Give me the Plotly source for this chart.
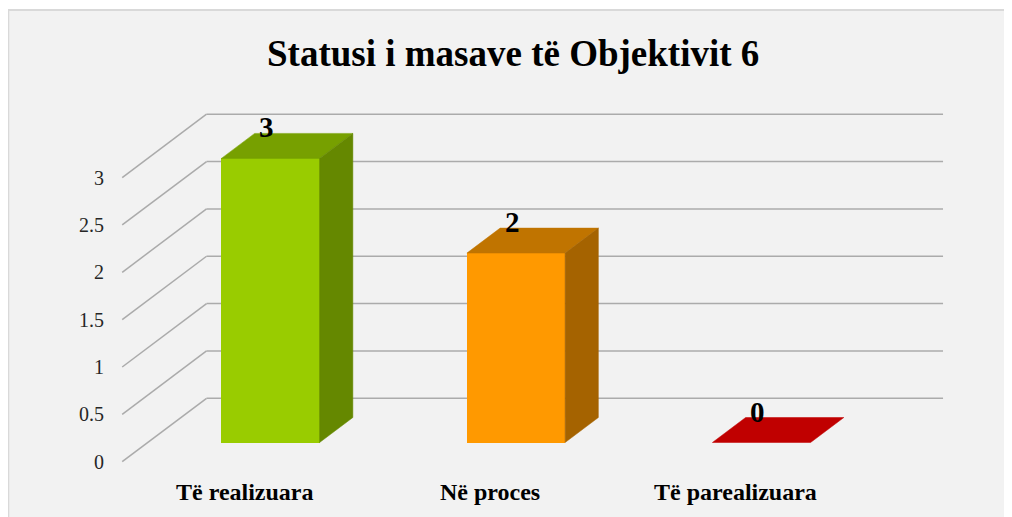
import plotly.graph_objects as go

# ---------------- data ----------------
categories = ["Të realizuara", "Në proces", "Të parealizuara"]
values = [3, 2, 0]
value_labels = ["3", "2", "0"]
tick_values = [0, 0.5, 1, 1.5, 2, 2.5, 3]
tick_labels = ["0", "0.5", "1", "1.5", "2", "2.5", "3"]
title_text = "Statusi i masave të Objektivit 6"

front_colors = ["#99CC00", "#FF9900", "#C00000"]
top_colors = ["#77A000", "#C07400", "#C00000"]
side_colors = ["#658800", "#A56300", "#900000"]

SERIF = "Liberation Serif, Times New Roman, DejaVu Serif, serif"

# ---------------- layout geometry (pixels, figure coordinates) ----------------
W, H = 1012, 517
PAGE_OFF = 8          # browser body margin
CAT_PX = 245.5        # pixels per category step
VAL_PX = 94.7         # pixels per value unit
X0_PX = 270.5 - PAGE_OFF   # pixel of category 0 (front face of bars)
Y0_PX = 442.5 - PAGE_OFF   # pixel of value 0 (front face of bars)
SLOPE = 1.33          # horizontal px per vertical px of depth
BAR_W = 0.4           # bar width in category units
BAR_D = 25            # bar depth (vertical px)
FRONT_D = -19.2       # front plane depth
BACK_D = 44.2         # back wall depth
WALL_L, WALL_R = -0.5, 2.5

xr = [(0 - X0_PX) / CAT_PX, (W - X0_PX) / CAT_PX]
yr = [-(H - Y0_PX) / VAL_PX, Y0_PX / VAL_PX]


def shift(d):
    return SLOPE * d / CAT_PX, d / VAL_PX


fig = go.Figure()

# front faces of the bars
fig.add_trace(go.Bar(
    x=list(range(len(categories))), y=values, width=BAR_W,
    marker=dict(color=front_colors, line=dict(width=0)),
    hoverinfo="skip", showlegend=False,
))

bdx, bdy = shift(BAR_D)
for i, v in enumerate(values):
    xl, xr_ = i - BAR_W / 2, i + BAR_W / 2
    # top face
    fig.add_trace(go.Scatter(
        x=[xl, xr_, xr_ + bdx, xl + bdx, xl],
        y=[v, v, v + bdy, v + bdy, v],
        fill="toself", fillcolor=top_colors[i], mode="lines",
        line=dict(width=0.5, color=top_colors[i]), hoverinfo="skip", showlegend=False,
    ))
    # side face
    if v > 0:
        fig.add_trace(go.Scatter(
            x=[xr_, xr_, xr_ + bdx, xr_ + bdx, xr_],
            y=[0, v, v + bdy, bdy, 0],
            fill="toself", fillcolor=side_colors[i], mode="lines",
            line=dict(width=0.5, color=side_colors[i]), hoverinfo="skip", showlegend=False,
        ))

shapes = []
# chart area background with border
shapes.append(dict(type="rect", xref="paper", yref="paper",
                   x0=0.3 / W, x1=1.02, y0=-0.02, y1=1 - 2 / H,
                   fillcolor="#F2F2F2", line=dict(color="#D9D9D9", width=2), layer="below"))

fdx, fdy = shift(FRONT_D)
kdx, kdy = shift(BACK_D)
for t in tick_values:
    shapes.append(dict(type="line", xref="x", yref="y",
                       x0=WALL_L + fdx, y0=t + fdy, x1=WALL_L + kdx, y1=t + kdy,
                       line=dict(color="#ABABAB", width=1.5), layer="below"))
    shapes.append(dict(type="line", xref="x", yref="y",
                       x0=WALL_L + kdx, y0=t + kdy, x1=WALL_R + kdx, y1=t + kdy,
                       line=dict(color="#ABABAB", width=1.5), layer="below"))

annotations = []
# y tick labels on the front plane
for t, lab in zip(tick_values, tick_labels):
    annotations.append(dict(x=WALL_L + fdx, y=t + fdy, xref="x", yref="y",
                            text=lab, showarrow=False, xanchor="right", yanchor="middle",
                            xshift=-16, font=dict(family=SERIF, size=20, color="#262626")))
# category labels
for i, c in enumerate(categories):
    annotations.append(dict(x=i + fdx, y=0 + fdy, xref="x", yref="y",
                            text="<b>" + c + "</b>", showarrow=False, xanchor="center", yanchor="middle",
                            yshift=-30, font=dict(family=SERIF, size=24, color="#000000")))
# data labels
for i, (v, lab) in enumerate(zip(values, value_labels)):
    annotations.append(dict(x=i, y=v, xref="x", yref="y",
                            text="<b>" + lab + "</b>", showarrow=False, xanchor="center", yanchor="middle",
                            xshift=-4, yshift=31, font=dict(family=SERIF, size=29, color="#000000")))
# title
annotations.append(dict(x=(512.5 - PAGE_OFF) / W, y=1 - (53 - PAGE_OFF) / H, xref="paper", yref="paper",
                        text="<b>" + title_text + "</b>", showarrow=False,
                        xanchor="center", yanchor="middle",
                        font=dict(family=SERIF, size=37, color="#000000")))

fig.update_layout(
    width=W, height=H,
    margin=dict(l=0, r=0, t=0, b=0, pad=0),
    paper_bgcolor="#FFFFFF", plot_bgcolor="rgba(0,0,0,0)",
    font=dict(family=SERIF),
    xaxis=dict(range=xr, visible=False, fixedrange=True),
    yaxis=dict(range=yr, visible=False, fixedrange=True),
    shapes=shapes, annotations=annotations,
    showlegend=False, bargap=0,
)

fig.write_html("out.html")
